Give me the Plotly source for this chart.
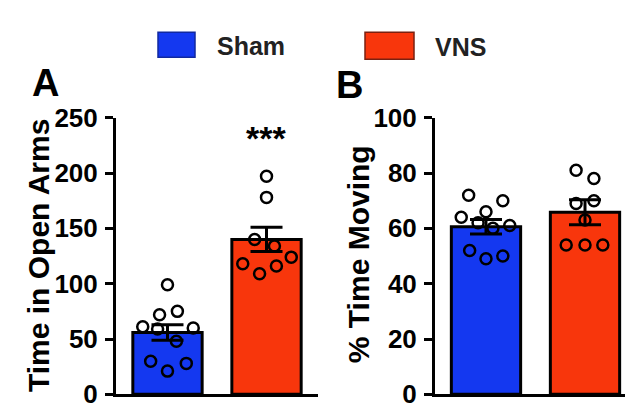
import plotly.graph_objects as go

# group labels and colours
groups = ["Sham", "VNS"]
colors = ["#1438F0", "#F8360C"]

# panel A: time in open arms (bar = mean, error = SEM, points = animals)
open_mean = [56, 140]
open_sem = [7, 11]
open_sham = [99, 75, 72, 61, 60, 59, 48, 30, 28, 21]
open_sham_dx = [0, 0.1, -0.08, -0.25, 0.26, -0.1, 0.09, -0.17, 0.19, 0.0]
open_vns = [197, 178, 140, 134, 124, 118, 116, 109]
open_vns_dx = [0, 0, -0.12, 0.08, 0.25, -0.24, 0.1, -0.07]

# panel B: % time moving
move_mean = [60.6, 65.8]
move_sem = [2.6, 4.5]
move_sham = [72, 70, 66, 64, 62, 61, 60, 52, 49, 50]
move_sham_dx = [-0.175, 0.17, 0, -0.25, -0.08, 0.24, 0.07, -0.165, 0, 0.17]
move_vns = [81, 78, 70, 69, 63, 54, 54, 54]
move_vns_dx = [-0.09, 0.09, 0.09, -0.09, 0, -0.19, 0, 0.18]

W, H = 633, 419
FONT = "Liberation Sans, Arial, sans-serif"


def px_x(p):
    return p / W


def px_y(p):
    return 1 - p / H


fig = go.Figure()


def add_panel(xa, ya, means, sems, pts):
    fig.add_trace(go.Bar(
        x=[0, 1], y=means, width=0.7, xaxis=xa, yaxis=ya,
        marker=dict(color=colors, line=dict(color="black", width=3)),
        showlegend=False,
    ))
    for gi, (vals, dx) in enumerate(pts):
        fig.add_trace(go.Scatter(
            x=[gi + d for d in dx], y=vals, mode="markers", xaxis=xa, yaxis=ya,
            marker=dict(symbol="circle-open", size=11, color="black",
                        line=dict(color="black", width=2.5)),
            showlegend=False, cliponaxis=False,
        ))
    fig.add_trace(go.Scatter(
        x=[0, 1], y=means, mode="markers", xaxis=xa, yaxis=ya,
        marker=dict(size=1, color="rgba(0,0,0,0)"),
        error_y=dict(type="data", array=sems, color="black", thickness=3, width=16),
        showlegend=False,
    ))


add_panel("x", "y", open_mean, open_sem,
          [(open_sham, open_sham_dx), (open_vns, open_vns_dx)])
add_panel("x2", "y2", move_mean, move_sem,
          [(move_sham, move_sham_dx), (move_vns, move_vns_dx)])

ydom = [px_y(400), px_y(102)]
axis_common = dict(showline=True, linecolor="black", linewidth=3, showgrid=False,
                   zeroline=False)
ycommon = dict(axis_common, ticks="outside", ticklen=8, tickwidth=3, tickcolor="black",
               ticklabelstandoff=2,
               tickfont=dict(family=FONT, size=26, color="black", weight="bold"))

fig.update_layout(
    width=W, height=H,
    margin=dict(l=0, r=0, t=0, b=0),
    paper_bgcolor="white", plot_bgcolor="white",
    barmode="overlay",
    xaxis=dict(axis_common, domain=[px_x(108), px_x(310)], range=[-0.52, 1.52],
               showticklabels=False, ticks=""),
    yaxis=dict(ycommon, domain=ydom, range=[0, 250], tickvals=[0, 50, 100, 150, 200, 250]),
    xaxis2=dict(axis_common, domain=[px_x(427), px_x(627)], range=[-0.515, 1.505],
                showticklabels=False, ticks="", anchor="y2"),
    yaxis2=dict(ycommon, domain=ydom, range=[0, 100], tickvals=[0, 20, 40, 60, 80, 100],
                anchor="x2"),
)

bold = lambda s: dict(family=FONT, size=s, color="black", weight="bold")
annots = [
    dict(text="Time in Open Arms", x=px_x(30), y=px_y(251), textangle=-90, font=bold(30)),
    dict(text="% Time Moving", x=px_x(350), y=px_y(249), textangle=-90, font=bold(30)),
    dict(text="A", x=px_x(37), y=px_y(65), font=bold(38)),
    dict(text="B", x=px_x(341), y=px_y(67), font=bold(38)),
    dict(text="***", x=px_x(258), y=px_y(124), font=bold(34)),
    dict(text="Sham", x=px_x(243), y=px_y(25), font=dict(family=FONT, size=25, color="#222", weight="bold")),
    dict(text="VNS", x=px_x(452), y=px_y(26), font=dict(family=FONT, size=25, color="#222", weight="bold")),
]
for a in annots:
    fig.add_annotation(xref="paper", yref="paper", showarrow=False,
                       xanchor="center", yanchor="middle", **a)

# legend swatches
fig.add_shape(type="rect", xref="paper", yref="paper",
              x0=px_x(150), x1=px_x(187), y0=px_y(37), y1=px_y(10),
              fillcolor=colors[0], line=dict(color="#1028A0", width=1.5))
fig.add_shape(type="rect", xref="paper", yref="paper",
              x0=px_x(357), x1=px_x(406), y0=px_y(39), y1=px_y(10),
              fillcolor=colors[1], line=dict(color="#7A2010", width=1.5))

fig.write_html("out.html")
